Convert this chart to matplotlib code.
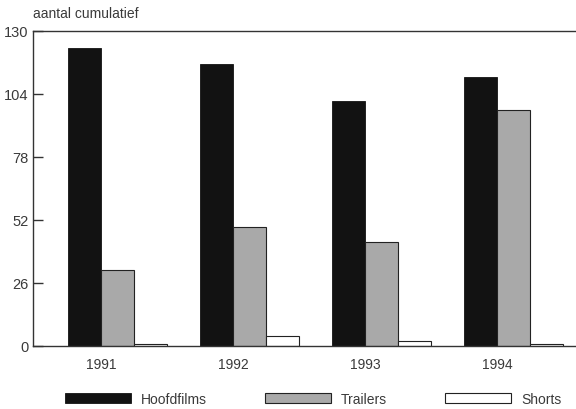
import matplotlib
matplotlib.use('Agg')
import matplotlib.pyplot as plt
import numpy as np

years = ['1991', '1992', '1993', '1994']
hoofdfilms = [123, 116.5, 101, 111]
trailers = [31.5, 49, 43, 97.5]
shorts = [1, 4, 2, 1]

plt.rcParams['font.family'] = ['Liberation Sans', 'DejaVu Sans']
txt = '#3a3a3a'

fig = plt.figure(figsize=(5.76, 4.10), dpi=100)
ax = fig.add_axes([33/576, 1 - 347/410, 1 - 33/576, 315/410])

x = np.arange(len(years)) * 4
ax.bar(x - 0.5, hoofdfilms, width=1, color='#121212', edgecolor='#121212', linewidth=0.6, label='Hoofdfilms')
ax.bar(x + 0.5, trailers, width=1, color='#a9a9a9', edgecolor='#222222', linewidth=0.8, label='Trailers')
ax.bar(x + 1.5, shorts, width=1, color='white', edgecolor='#222222', linewidth=0.8, label='Shorts')

ax.set_xlim(-2.06, 14.4)
ax.set_ylim(0, 130)
ax.set_yticks(np.arange(0, 131, 26))
ax.set_xticks(x)
ax.set_xticklabels(years)
ax.tick_params(axis='x', length=0, pad=8, labelsize=10, labelcolor=txt)
ax.tick_params(axis='y', length=7, width=1, direction='in', pad=3, labelsize=10.5, labelcolor=txt, color='#333333')
ax.spines['right'].set_visible(False)
for s in ['left', 'top', 'bottom']:
    ax.spines[s].set_color('#333333')
    ax.spines[s].set_linewidth(1)

fig.text(33/576, 1 - 14/410, 'aantal cumulatief', ha='left', va='center', fontsize=10, color=txt)

leg = fig.legend(loc='center left', bbox_to_anchor=(59/576, 1 - 400/410), ncol=3,
                 frameon=False, handlelength=4.75, handleheight=0.7, handletextpad=0.72,
                 columnspacing=4.2, fontsize=10, labelcolor=txt, borderaxespad=0)

fig.savefig('out.png', dpi=100)
